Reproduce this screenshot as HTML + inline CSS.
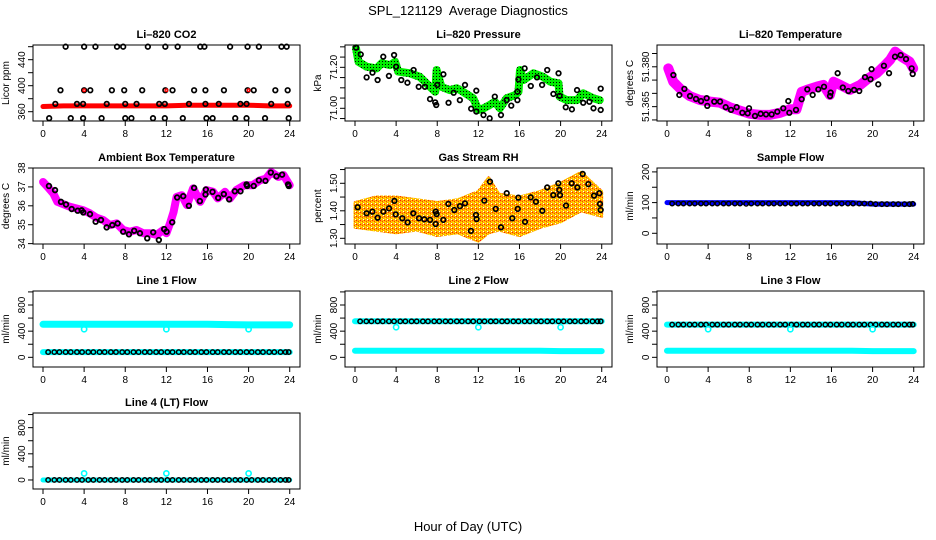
<!DOCTYPE html>
<html><head><meta charset="utf-8"><title>SPL_121129 Average Diagnostics</title>
<style>
html,body{margin:0;padding:0;background:#fff;}
svg{display:block;font-family:"Liberation Sans",Arial,sans-serif;}
</style></head>
<body>
<svg id="chart" width="936" height="540" viewBox="0 0 936 540" xmlns="http://www.w3.org/2000/svg">
<defs>
<pattern id="greenDots" patternUnits="userSpaceOnUse" width="3" height="3"><rect width="3" height="3" fill="#00ee00"/><rect x="1" y="1" width="1" height="1" fill="#000"/></pattern>
<pattern id="rhDots" patternUnits="userSpaceOnUse" width="4" height="4"><rect width="4" height="4" fill="#ffb000"/><rect x="0" y="0" width="1" height="1" fill="#ff2000"/><rect x="2" y="1" width="1" height="1" fill="#ff4000"/><rect x="1" y="2" width="1" height="1" fill="#ffff00"/><rect x="3" y="3" width="1" height="1" fill="#ffffff"/><rect x="3" y="1" width="1" height="1" fill="#ffe000"/></pattern>
</defs>
<text x="468" y="15" text-anchor="middle" font-size="13" style="white-space:pre">SPL_121129  Average Diagnostics</text>
<text x="468" y="531" text-anchor="middle" font-size="13">Hour of Day (UTC)</text>
</svg>
<script>
// ---------- DATA ----------
const xTicks = [0,4,8,12,16,20,24];

// CO2
const co2Hours460 = [2.2,4.0,5.1,7.2,7.8,10.2,11.9,13.1,15.3,15.7,18.2,19.9,21.0,23.2,23.7];
const co2Hours393 = [1.7,4.0,4.6,6.7,7.9,9.65,11.9,12.6,14.7,15.8,17.6,19.9,20.5,22.6,23.8];
const co2Hours372 = [1.2,3.3,3.9,6.2,8.0,9.1,11.3,11.85,14.2,15.8,17.1,19.2,19.8,22.2,23.8];
const co2Hours350 = [0.6,2.7,3.9,5.7,8.0,8.6,10.7,11.85,13.6,15.9,16.5,18.7,19.8,21.6,23.9];
const co2Levels = [460,393,372,350];
const co2RedHours = [0,2,4,6,8,10,12,14,16,18,20,22,24];
const co2RedValues = [368,369,369,369,369,369,369,370,370,370,370,369,369];
const co2RedMarkHours = [4,12,20];
const co2RedMarkValues = [393,393,393];

// Pressure
const presLineHours = [0.1,0.34,1.13,2.1,2.6,3.4,3.9,4.2,5.35,6.3,7.1,7.8,7.94,8.4,9.2,9.9,10.5,11.5,12.0,12.5,13.1,13.6,14.1,14.75,15.6,15.9,16.05,16.4,17.35,18.3,19.0,19.8,19.9,20.6,21.6,22.2,23.2,23.8];
const presLineValues = [71.293,71.227,71.203,71.195,71.22,71.211,71.227,71.179,71.171,71.154,71.114,71.081,71.187,71.105,71.089,71.098,71.081,71.049,70.992,71.0,71.016,71.032,71.0,71.049,71.065,71.081,71.187,71.138,71.171,71.154,71.13,71.122,71.057,71.04,71.04,71.073,71.049,71.04];
const presPtHours = [0.1,0.56,1.13,1.7,2.2,2.75,3.3,3.8,4.0,4.5,5.1,5.7,6.2,6.8,7.3,7.8,7.9,8.0,8.6,9.1,9.6,10.2,10.7,11.3,11.8,11.8,12.5,13.1,13.6,14.2,14.75,15.2,15.8,15.8,15.9,16.5,17.1,17.7,18.2,18.7,19.3,19.8,19.9,20.5,21.1,21.6,22.2,22.8,23.2,23.9,23.9];
const presPtValues = [71.296,71.263,71.151,71.174,71.138,71.252,71.158,71.26,71.203,71.138,71.125,71.187,71.105,71.105,71.045,71.029,71.016,71.114,71.166,71.027,71.076,71.04,71.114,70.998,71.086,70.984,70.967,70.951,71.057,70.967,71.04,71.013,71.081,71.04,71.141,71.195,71.109,71.151,71.114,71.187,71.07,71.171,71.061,71.005,70.995,71.089,71.027,71.032,71.0,70.992,71.096];

// Li-820 temperature
const ltLineHours = [0.13,0.6,1.4,2.2,3.2,4.2,5.15,6.1,7.1,8.05,9.05,10.0,11.0,11.95,12.6,13.1,13.6,14.55,15.2,15.85,16.2,16.85,17.8,18.8,19.6,20.4,21.05,21.7,22.2,22.8,23.6,23.95];
const ltLineValues = [51.3794,51.3744,51.3713,51.369,51.3675,51.3669,51.3665,51.3648,51.3635,51.3623,51.3619,51.3619,51.3627,51.364,51.364,51.3706,51.3713,51.3725,51.3732,51.3694,51.3744,51.3732,51.3713,51.3732,51.3757,51.3776,51.38,51.3826,51.3857,51.3838,51.3819,51.3794];
const ltPtHours = [0.62,1.2,1.69,2.24,2.82,3.31,3.86,3.92,4.6,5.16,5.71,6.23,6.78,7.33,7.85,7.98,8.56,9.11,9.63,10.18,10.73,11.31,11.8,11.9,12.55,13.1,13.65,14.17,14.72,15.27,15.86,15.92,16.6,17.1,17.64,18.2,18.7,19.26,19.8,19.9,20.55,21.1,21.6,22.18,22.73,23.25,23.8,23.9];
const ltPtValues = [51.3769,51.3694,51.3717,51.369,51.3679,51.3671,51.3682,51.3653,51.3669,51.3669,51.3648,51.3638,51.3648,51.3627,51.3625,51.3644,51.3615,51.3623,51.3621,51.3621,51.3631,51.3644,51.3671,51.3627,51.3638,51.3678,51.3715,51.3694,51.3715,51.3725,51.369,51.3703,51.3776,51.3722,51.3709,51.3713,51.3709,51.3761,51.3753,51.3791,51.3734,51.3804,51.3776,51.3838,51.3844,51.3829,51.3794,51.3773];

// Ambient box temperature
const abLineHours = [0.01,0.45,1.0,1.4,2.62,3.27,3.92,4.57,5.2,5.86,6.5,7.16,7.8,8.45,9.1,9.75,10.4,11.05,11.7,12.0,12.35,12.7,13.0,13.5,14.0,14.6,15.3,15.9,16.55,17.0,17.7,18.2,18.8,19.6,20.4,21.1,21.7,22.2,22.9,23.4,24.0];
const abLineValues = [37.26,37.0,36.65,36.21,35.95,35.86,35.77,35.6,35.37,35.25,34.98,35.07,34.72,34.63,34.72,34.55,34.55,34.46,34.72,34.55,35.07,35.68,36.47,36.56,36.04,36.92,36.21,36.83,36.74,36.39,36.74,36.39,36.83,37.09,37.09,37.35,37.44,37.79,37.53,37.62,37.09];
const abPtHours = [0.58,1.17,1.75,2.24,2.79,3.37,3.76,3.92,4.57,5.12,5.64,6.19,6.74,7.26,7.8,8.36,8.87,9.43,10.14,10.72,11.27,11.79,12.02,12.57,13.05,13.64,14.19,14.7,15.26,15.81,15.84,16.49,17.04,17.59,18.11,18.66,19.21,19.8,19.86,20.5,21.0,21.64,22.16,22.71,23.26,23.84,23.9];
const abPtValues = [37.05,36.83,36.21,36.07,35.83,35.74,35.76,35.65,35.56,35.16,35.25,34.86,34.98,35.07,34.63,34.49,34.68,34.55,34.28,34.6,34.19,34.77,34.63,35.13,36.44,36.51,36.0,36.95,36.25,36.6,36.86,36.74,36.42,36.62,36.34,36.77,36.77,37.13,37.05,37.05,37.35,37.32,37.76,37.56,37.65,37.13,37.05];

// Gas stream RH
const rhEnvHours = [0,2,4,6,8,10,12,13,14,16,18,20,22,24];
const rhEnvLow = [1.34,1.33,1.32,1.33,1.31,1.32,1.29,1.32,1.33,1.31,1.34,1.36,1.40,1.38];
const rhEnvHigh = [1.43,1.45,1.45,1.44,1.43,1.44,1.47,1.52,1.46,1.45,1.47,1.50,1.54,1.47];
const rhPtHours = [0.26,1.13,1.69,2.2,2.76,3.31,3.83,3.96,4.6,5.12,5.67,6.23,6.74,7.3,7.85,7.85,7.94,8.59,9.08,9.66,10.21,10.7,11.28,11.77,11.83,12.58,13.13,13.69,14.2,14.76,15.3,15.83,15.89,16.54,17.09,17.6,18.22,18.7,19.29,19.78,19.87,19.94,20.53,21.08,21.63,22.15,22.7,23.25,23.77,23.83,23.9];
const rhPtValues = [1.413,1.391,1.397,1.375,1.397,1.409,1.436,1.387,1.373,1.358,1.391,1.373,1.369,1.367,1.397,1.352,1.388,1.367,1.425,1.403,1.417,1.427,1.327,1.385,1.37,1.437,1.506,1.407,1.34,1.464,1.373,1.407,1.448,1.36,1.449,1.433,1.4,1.485,1.457,1.5,1.476,1.457,1.419,1.5,1.485,1.534,1.497,1.455,1.464,1.425,1.403];

// Flows
const flowHours = [0.5,1.1,1.6,2.2,2.7,3.3,3.8,4.4,4.9,5.5,6.0,6.6,7.1,7.7,8.2,8.8,9.3,9.9,10.4,11.0,11.5,12.1,12.6,13.2,13.7,14.3,14.8,15.4,15.9,16.5,17.0,17.6,18.1,18.7,19.2,19.8,20.3,20.9,21.4,22.0,22.5,23.1,23.6,23.9];
const sampleBlack = [97,97,97,97,97,97,97,97,97,97,97,97,97,96,97,97,97,97,97,97,97,97,97,97,97,97,97,97,97,97,97,97,97,97,97,97,95,95,95,95,95,95,95,96];
const line1Black = [80,80,80,80,80,80,80,80,80,80,80,80,80,80,80,80,80,80,80,80,80,80,80,80,80,80,80,80,80,80,80,80,80,80,80,80,80,80,80,80,80,80,80,80];
const line2Black = [550,550,550,550,550,550,550,550,550,550,550,550,550,550,550,550,550,550,550,550,550,550,550,550,550,550,550,550,550,550,550,550,550,550,550,550,550,550,550,550,550,550,550,550];
const line3Black = [500,500,500,500,500,500,500,500,500,500,500,500,500,500,500,500,500,500,500,500,500,500,500,500,500,500,500,500,500,500,500,500,500,500,500,500,500,500,500,500,500,500,500,500];
const line4Black = [0,0,0,0,0,0,0,0,0,0,0,0,0,0,0,0,0,0,0,0,0,0,0,0,0,0,0,0,0,0,0,0,0,0,0,0,0,0,0,0,0,0,0,0];
const bandHours = [0,4,8,12,16,18,20,24];
const sampleBlue = [100,100,100,100,100,100,95,95];
const line1CyanHigh = [505,505,505,505,505,500,495,495];
const line1CyanLow = [80,80,80,80,80,80,80,80];
const line2CyanHigh = [550,550,550,550,550,550,550,550];
const line2CyanLow = [100,100,100,100,100,100,95,95];
const line3CyanHigh = [500,500,500,500,500,500,500,500];
const line3CyanLow = [100,100,100,100,100,100,95,95];
const line4Cyan = [0,0,0,0,0,0,0,0];
const spikeHours = [4,12,20];
const line1Spikes = [430,430,430];
const line2Spikes = [460,460,460];
const line3Spikes = [430,430,430];
const line4Spikes = [100,100,100];

// ---------- DRAWING ----------
const NS = "http://www.w3.org/2000/svg";
const svg = document.getElementById("chart");
const colLeft = [33,345,657], rowTop = [45,168,291,413], BW = 267, BH = 76;

function mk(tag, parent, name, attrs) {
  const e = document.createElementNS(NS, tag);
  for (const k in attrs) e.setAttribute(k, attrs[k]);
  
  
  parent.appendChild(e);
  return e;
}

function panel(key, col, row, ylo, yhi, title, ylab, yticks, ylabels) {
  const L = colLeft[col], T = rowTop[row], B = T + BH, R = L + BW;
  const g = mk('g', svg, key + '-panel', {});
  const x = h => L + 10 + h * 10.28;
  const y = v => B - (v - ylo) / (yhi - ylo) * BH;
  const t = mk('text', g, key + '-title', {x: (L + R) / 2, y: T - 7, 'text-anchor': 'middle', 'font-size': 11, 'font-weight': 'bold'});
  t.textContent = title;
  const plot = mk('g', g, key + '-plot-area', {});
  mk('rect', g, key + '-plot-box', {x: L, y: T, width: BW, height: BH, fill: 'none', stroke: '#000', 'stroke-width': 1});
  mk('line', g, key + '-x-axis-line', {x1: x(0), x2: x(24), y1: B, y2: B, stroke: '#000'});
  xTicks.forEach(h => {
    mk('line', g, key + '-x-tick', {x1: x(h), x2: x(h), y1: B, y2: B + 5, stroke: '#000'});
    const lt = mk('text', g, key + '-x-tick-label', {x: x(h), y: B + 16, 'text-anchor': 'middle', 'font-size': 10});
    lt.textContent = h;
  });
  mk('line', g, key + '-y-axis-line', {x1: L, x2: L, y1: y(yticks[0]), y2: y(yticks[yticks.length - 1]), stroke: '#000'});
  yticks.forEach(v => {
    mk('line', g, key + '-y-tick', {x1: L - 5, x2: L, y1: y(v), y2: y(v), stroke: '#000'});
  });
  ylabels.forEach(s => {
    const yy = y(parseFloat(s)), xx = L - 8;
    const lt = mk('text', g, key + '-y-tick-label', {x: xx, y: yy, 'text-anchor': 'middle', 'font-size': 10, transform: `rotate(-90 ${xx} ${yy})`});
    lt.textContent = s;
  });
  const yt = L - 24, ym = (T + B) / 2;
  const at = mk('text', g, key + '-y-axis-title', {x: yt, y: ym, 'text-anchor': 'middle', 'font-size': 10, transform: `rotate(-90 ${yt} ${ym})`});
  at.textContent = ylab;
  return {x, y, plot};
}

function pts(xs, ys, P) { return xs.map((h, i) => P.x(h).toFixed(1) + ',' + P.y(ys[i]).toFixed(1)).join(' '); }
function band(P, name, xs, ys, stroke, w) {
  mk('polyline', P.plot, name, {points: pts(xs, ys, P), fill: 'none', stroke: stroke, 'stroke-width': w, 'stroke-linejoin': 'round', 'stroke-linecap': 'round'});
}
function circles(P, name, xs, ys, color, r, sw) {
  xs.forEach((h, i) => {
    mk('circle', P.plot, name, {cx: P.x(h), cy: P.y(ys[i]), r: r, fill: 'none', stroke: color, 'stroke-width': sw});
  });
}

// CO2
const pC = panel('co2', 0, 0, 345.7, 462.6, 'Li\u2013820 CO2', 'Licor ppm', [360,380,400,420,440,460], ['360','400','440']);
band(pC, 'co2-red-series', co2RedHours, co2RedValues, '#ff0000', 5);
[co2Hours460, co2Hours393, co2Hours372, co2Hours350].forEach((hs, k) => {
  circles(pC, 'co2-point', hs, hs.map(() => co2Levels[k]), '#000', 2.3, 1.7);
});
circles(pC, 'co2-red-point', co2RedMarkHours, co2RedMarkValues, '#ff0000', 1.3, 1.4);

// Pressure
const pP = panel('pressure', 1, 0, 70.938, 71.309, 'Li\u2013820 Pressure', 'kPa', [70.95,71.0,71.05,71.1,71.15,71.2,71.25,71.3], ['71.00','71.20']);
band(pP, 'pressure-green-series', presLineHours, presLineValues, 'url(#greenDots)', 8);
circles(pP, 'pressure-point', presPtHours, presPtValues, '#000', 2.3, 1.7);

// Li-820 temperature
const pT = panel('li820-temp', 2, 0, 51.3596, 51.3882, 'Li\u2013820 Temperature', 'degrees C', [51.36,51.365,51.37,51.375,51.38,51.385], ['51.365','51.380']);
band(pT, 'li820-temp-magenta-series', ltLineHours, ltLineValues, '#ff00ff', 10);
circles(pT, 'li820-temp-point', ltPtHours, ltPtValues, '#000', 2.3, 1.7);

// Ambient
const pA = panel('ambient', 0, 1, 33.98, 38.0, 'Ambient Box Temperature', 'degrees C', [34,35,36,37,38], ['34','35','36','37','38']);
band(pA, 'ambient-magenta-series', abLineHours, abLineValues, '#ff00ff', 8);
circles(pA, 'ambient-point', abPtHours, abPtValues, '#000', 2.3, 1.8);

// RH
const pR = panel('rh', 1, 1, 1.2793, 1.5556, 'Gas Stream RH', 'percent', [1.3,1.35,1.4,1.45,1.5,1.55], ['1.30','1.40','1.50']);
const envPts = rhEnvHours.map((h, i) => pR.x(h) + ',' + pR.y(rhEnvHigh[i])).concat(rhEnvHours.slice().reverse().map((h, i) => pR.x(h) + ',' + pR.y(rhEnvLow[rhEnvLow.length - 1 - i])));
mk('polygon', pR.plot, 'rh-orange-cloud', {points: envPts.join(' '), fill: 'url(#rhDots)', stroke: 'url(#rhDots)', 'stroke-width': 3, 'stroke-linejoin': 'round'});
circles(pR, 'rh-point', rhPtHours, rhPtValues, '#000', 2.3, 1.7);

// Sample flow
const pS = panel('sample-flow', 2, 1, -34.9, 212.7, 'Sample Flow', 'ml/min', [0,50,100,150,200], ['0','100','200']);
band(pS, 'sample-flow-blue-series', bandHours, sampleBlue, '#0000ff', 5);
circles(pS, 'sample-flow-point', flowHours, sampleBlack, '#000', 2.2, 1.5);

const flowTicks = [0,200,400,600,800,1000], flowLabels = ['0','400','800'];
const p1 = panel('line1-flow', 0, 2, -148, 1014, 'Line 1 Flow', 'ml/min', flowTicks, flowLabels);
band(p1, 'line1-cyan-high', bandHours, line1CyanHigh, '#00ffff', 7);
band(p1, 'line1-cyan-low', bandHours, line1CyanLow, '#00ffff', 6);
circles(p1, 'line1-point', flowHours, line1Black, '#000', 2.2, 1.5);
circles(p1, 'line1-cyan-spike', spikeHours, line1Spikes, '#00ffff', 2.6, 1.6);
const p2 = panel('line2-flow', 1, 2, -148, 1014, 'Line 2 Flow', 'ml/min', flowTicks, flowLabels);
band(p2, 'line2-cyan-high', bandHours, line2CyanHigh, '#00ffff', 6);
band(p2, 'line2-cyan-low', bandHours, line2CyanLow, '#00ffff', 6);
circles(p2, 'line2-point', flowHours, line2Black, '#000', 2.2, 1.5);
circles(p2, 'line2-cyan-spike', spikeHours, line2Spikes, '#00ffff', 2.6, 1.6);
const p3 = panel('line3-flow', 2, 2, -148, 1014, 'Line 3 Flow', 'ml/min', flowTicks, flowLabels);
band(p3, 'line3-cyan-high', bandHours, line3CyanHigh, '#00ffff', 6);
band(p3, 'line3-cyan-low', bandHours, line3CyanLow, '#00ffff', 6);
circles(p3, 'line3-point', flowHours, line3Black, '#000', 2.2, 1.5);
circles(p3, 'line3-cyan-spike', spikeHours, line3Spikes, '#00ffff', 2.6, 1.6);
const p4 = panel('line4-flow', 0, 3, -138, 1024, 'Line 4 (LT) Flow', 'ml/min', flowTicks, flowLabels);
band(p4, 'line4-cyan', bandHours, line4Cyan, '#00ffff', 5);
circles(p4, 'line4-point', flowHours, line4Black, '#000', 2.2, 1.5);
circles(p4, 'line4-cyan-spike', spikeHours, line4Spikes, '#00ffff', 2.6, 1.6);
</script>
</body></html>
